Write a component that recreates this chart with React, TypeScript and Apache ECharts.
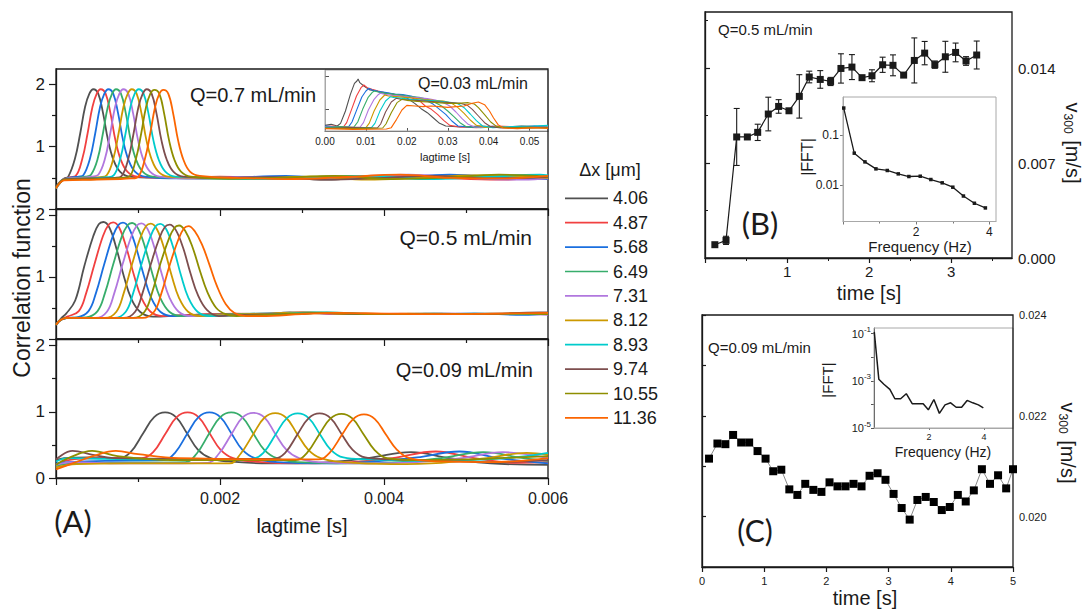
import React, { useEffect, useRef } from "react";
import * as echarts from "echarts";

const FONT = "'Liberation Sans', Arial, Helvetica, sans-serif";
const LETTER_FONT = "Lato, 'Open Sans', sans-serif";
const INK = "#1a1a1a";

// Probe spacings and the line colour used for each of them
const dxLabels = ["4.06", "4.87", "5.68", "6.49", "7.31", "8.12", "8.93", "9.74", "10.55", "11.36"];
const lineColors = ["#515151", "#F14040", "#1A6FDF", "#37AD6B", "#B177DE", "#CC9900", "#00CBCC", "#7D4E4E", "#8E8E00", "#FB6501"];

// Correlation functions, Q = 0.7 mL/min: [lag (µs), g]
const corrQ07: number[][][] = [
  [[0,0.35],[50,0.44],[100,0.49],[150,0.52],[230,0.8],[295,1.21],[355,1.64],[407,1.85],[455,1.92],[515,1.85],[575,1.53],[635,1.1],[700,0.79],[780,0.6],[900,0.52],[1300,0.5],[1900,0.49],[2600,0.51],[3300,0.47],[3900,0.52],[4600,0.49],[5300,0.53],[6000,0.5]],
  [[0,0.34],[50,0.43],[100,0.48],[170,0.51],[240,0.53],[320,0.8],[385,1.21],[445,1.64],[497,1.85],[545,1.92],[605,1.85],[665,1.53],[725,1.1],[790,0.79],[870,0.6],[990,0.52],[1400,0.5],[2000,0.52],[2700,0.48],[3400,0.5],[4000,0.54],[4700,0.5],[5400,0.47],[6000,0.51]],
  [[0,0.33],[50,0.42],[100,0.48],[200,0.51],[280,0.52],[333,0.54],[413,0.8],[478,1.21],[538,1.64],[590,1.85],[638,1.92],[698,1.85],[758,1.53],[818,1.1],[883,0.79],[963,0.6],[1083,0.52],[1500,0.49],[2100,0.5],[2800,0.53],[3500,0.48],[4100,0.5],[4800,0.55],[5500,0.5],[6000,0.48]],
  [[0,0.34],[50,0.43],[100,0.48],[250,0.5],[360,0.52],[427,0.55],[507,0.8],[572,1.21],[632,1.64],[684,1.85],[732,1.92],[792,1.85],[852,1.53],[912,1.1],[977,0.79],[1057,0.6],[1177,0.52],[1600,0.5],[2200,0.48],[2900,0.5],[3600,0.53],[4200,0.49],[4900,0.5],[5600,0.54],[6000,0.5]],
  [[0,0.35],[50,0.43],[100,0.48],[300,0.5],[440,0.52],[516,0.55],[596,0.8],[661,1.21],[721,1.64],[773,1.85],[821,1.92],[881,1.85],[941,1.53],[1001,1.1],[1066,0.79],[1146,0.6],[1266,0.52],[1700,0.49],[2300,0.51],[3000,0.48],[3700,0.51],[4300,0.55],[5000,0.5],[5700,0.47],[6000,0.49]],
  [[0,0.34],[50,0.42],[100,0.47],[350,0.49],[540,0.51],[618,0.54],[698,0.8],[763,1.21],[823,1.64],[875,1.85],[923,1.92],[983,1.85],[1043,1.53],[1103,1.1],[1168,0.79],[1248,0.6],[1368,0.52],[1800,0.5],[2400,0.49],[3100,0.52],[3800,0.47],[4400,0.5],[5100,0.54],[5800,0.51],[6000,0.5]],
  [[0,0.33],[50,0.42],[100,0.47],[400,0.49],[620,0.51],[703,0.54],[783,0.8],[848,1.21],[908,1.64],[960,1.85],[1008,1.92],[1068,1.85],[1128,1.53],[1188,1.1],[1253,0.79],[1333,0.6],[1453,0.52],[1900,0.51],[2500,0.48],[3200,0.5],[3900,0.53],[4500,0.48],[5200,0.51],[5900,0.55],[6000,0.54]],
  [[0,0.35],[50,0.43],[100,0.48],[450,0.49],[720,0.5],[801,0.53],[881,0.8],[946,1.21],[1006,1.64],[1058,1.85],[1106,1.92],[1166,1.85],[1226,1.53],[1286,1.1],[1351,0.79],[1431,0.6],[1551,0.52],[2000,0.5],[2600,0.51],[3300,0.47],[4000,0.5],[4600,0.53],[5300,0.49],[6000,0.51]],
  [[0,0.34],[50,0.43],[100,0.47],[500,0.48],[810,0.5],[894,0.52],[974,0.8],[1039,1.21],[1099,1.64],[1151,1.85],[1199,1.91],[1259,1.85],[1319,1.53],[1379,1.1],[1444,0.79],[1524,0.6],[1644,0.52],[2100,0.49],[2700,0.5],[3400,0.53],[4100,0.48],[4700,0.5],[5400,0.55],[6000,0.52]],
  [[0,0.33],[50,0.42],[100,0.46],[500,0.47],[920,0.49],[1004,0.52],[1084,0.8],[1149,1.21],[1209,1.64],[1261,1.85],[1309,1.91],[1369,1.85],[1429,1.53],[1489,1.1],[1554,0.79],[1634,0.6],[1754,0.53],[2200,0.5],[2800,0.48],[3500,0.51],[4200,0.55],[4800,0.5],[5500,0.49],[6000,0.53]],
];

// Correlation functions, Q = 0.5 mL/min: [lag (µs), g]
const corrQ05: number[][][] = [
  [[0,0.23],[60,0.33],[124,0.41],[234,0.62],[344,1.17],[455,1.66],[521,1.85],[578,1.886],[653,1.79],[741,1.44],[830,1.0],[918,0.65],[1028,0.435],[1183,0.36],[1500,0.38],[2000,0.4],[2500,0.39],[2850,0.43],[3300,0.41],[4000,0.4],[4700,0.41],[5400,0.4],[6000,0.42]],
  [[0,0.23],[60,0.31],[138,0.36],[278,0.45],[368,0.74],[468,1.2],[573,1.66],[643,1.845],[698,1.88],[773,1.79],[863,1.45],[953,1.02],[1043,0.66],[1153,0.44],[1298,0.37],[1700,0.39],[2200,0.41],[2700,0.4],[3000,0.43],[3500,0.4],[4200,0.41],[4900,0.4],[5600,0.41],[6000,0.4]],
  [[0,0.23],[60,0.31],[140,0.34],[257,0.35],[397,0.45],[487,0.74],[587,1.2],[692,1.655],[762,1.84],[817,1.875],[892,1.785],[982,1.45],[1072,1.02],[1162,0.66],[1272,0.44],[1417,0.37],[1800,0.38],[2300,0.4],[2800,0.42],[3200,0.42],[3700,0.4],[4400,0.4],[5100,0.41],[5700,0.39],[6000,0.41]],
  [[0,0.23],[60,0.31],[140,0.34],[367,0.35],[507,0.45],[597,0.74],[697,1.2],[802,1.65],[872,1.835],[927,1.87],[1002,1.78],[1092,1.45],[1182,1.02],[1272,0.66],[1382,0.44],[1527,0.37],[1900,0.39],[2400,0.41],[2900,0.4],[3300,0.43],[3900,0.4],[4600,0.41],[5300,0.4],[6000,0.42]],
  [[0,0.23],[60,0.31],[140,0.34],[481,0.34],[621,0.44],[711,0.74],[811,1.2],[916,1.645],[986,1.83],[1041,1.865],[1116,1.775],[1206,1.45],[1296,1.02],[1386,0.66],[1496,0.44],[1641,0.37],[2000,0.38],[2500,0.4],[3000,0.42],[3500,0.41],[4100,0.4],[4800,0.41],[5500,0.41],[6000,0.39]],
  [[0,0.23],[60,0.31],[140,0.34],[596,0.34],[736,0.44],[826,0.74],[926,1.2],[1031,1.64],[1101,1.825],[1156,1.86],[1231,1.77],[1321,1.45],[1411,1.02],[1501,0.66],[1611,0.44],[1756,0.37],[2100,0.39],[2600,0.41],[3100,0.43],[3600,0.4],[4300,0.41],[5000,0.4],[5700,0.41],[6000,0.42]],
  [[0,0.23],[60,0.31],[140,0.34],[711,0.34],[851,0.44],[941,0.74],[1041,1.2],[1146,1.635],[1216,1.82],[1271,1.855],[1346,1.765],[1436,1.45],[1526,1.02],[1616,0.66],[1726,0.44],[1871,0.37],[2200,0.38],[2700,0.4],[3150,0.43],[3700,0.41],[4400,0.4],[5100,0.41],[5800,0.4],[6000,0.41]],
  [[0,0.23],[60,0.31],[140,0.34],[825,0.34],[965,0.44],[1055,0.74],[1155,1.2],[1260,1.625],[1330,1.81],[1385,1.845],[1460,1.76],[1550,1.47],[1640,1.06],[1730,0.71],[1840,0.47],[1985,0.37],[2300,0.39],[2800,0.4],[3250,0.42],[3800,0.4],[4500,0.41],[5200,0.4],[5900,0.43],[6000,0.43]],
  [[0,0.23],[60,0.31],[140,0.34],[940,0.34],[1080,0.44],[1170,0.74],[1270,1.2],[1375,1.61],[1445,1.795],[1500,1.83],[1575,1.745],[1665,1.48],[1755,1.1],[1845,0.76],[1955,0.5],[2070,0.4],[2200,0.37],[2400,0.38],[2900,0.41],[3350,0.42],[3900,0.4],[4600,0.4],[5300,0.41],[6000,0.4]],
  [[0,0.23],[60,0.31],[140,0.34],[1056,0.34],[1196,0.44],[1286,0.74],[1386,1.19],[1491,1.6],[1561,1.785],[1616,1.82],[1691,1.74],[1781,1.52],[1871,1.2],[1961,0.86],[2071,0.56],[2176,0.42],[2316,0.37],[2500,0.37],[3000,0.4],[3400,0.42],[4000,0.41],[4700,0.4],[5400,0.41],[6000,0.42]],
];

// Correlation functions, Q = 0.09 mL/min: [lag (µs), g]
const corrQ009: number[][][] = [
  [[0,0.27],[100,0.3],[400,0.31],[770,0.3],[910,0.39],[1065,0.68],[1197,0.92],[1330,0.99],[1463,0.92],[1595,0.68],[1730,0.43],[1885,0.3],[2100,0.25],[2600,0.22],[3200,0.23],[3800,0.3],[4330,0.39],[4800,0.3],[5300,0.22],[6000,0.2]],
  [[0,0.2],[150,0.27],[500,0.3],[1045,0.3],[1185,0.39],[1340,0.68],[1472,0.92],[1605,0.99],[1738,0.92],[1870,0.68],[2005,0.43],[2160,0.3],[2400,0.25],[3000,0.22],[3600,0.24],[4100,0.3],[4630,0.4],[5100,0.3],[5600,0.23],[6000,0.24]],
  [[0,0.22],[150,0.24],[600,0.26],[1311,0.27],[1451,0.38],[1606,0.68],[1738,0.92],[1871,0.99],[2004,0.92],[2136,0.68],[2271,0.43],[2426,0.3],[2700,0.24],[3300,0.22],[3900,0.25],[4400,0.31],[4920,0.4],[5400,0.3],[6000,0.22]],
  [[0,0.18],[200,0.22],[700,0.23],[1577,0.24],[1717,0.37],[1872,0.68],[2004,0.92],[2137,0.99],[2270,0.92],[2402,0.68],[2537,0.43],[2692,0.3],[2950,0.24],[3600,0.22],[4200,0.24],[4700,0.3],[5210,0.39],[5700,0.3],[6000,0.26]],
  [[0,0.2],[200,0.24],[800,0.22],[1848,0.23],[1988,0.37],[2143,0.67],[2275,0.915],[2408,0.985],[2541,0.915],[2673,0.67],[2808,0.43],[2963,0.3],[3200,0.24],[3800,0.22],[4400,0.24],[4950,0.3],[5450,0.39],[6000,0.3]],
  [[0,0.16],[250,0.21],[900,0.22],[2114,0.22],[2254,0.37],[2409,0.67],[2541,0.91],[2674,0.98],[2807,0.91],[2939,0.67],[3074,0.43],[3229,0.3],[3500,0.24],[4100,0.21],[4700,0.23],[5250,0.3],[5740,0.38],[6000,0.35]],
  [[0,0.25],[150,0.3],[600,0.29],[1200,0.28],[2389,0.29],[2529,0.38],[2684,0.67],[2816,0.905],[2949,0.975],[3082,0.905],[3214,0.67],[3349,0.43],[3504,0.31],[3800,0.28],[4400,0.26],[5000,0.27],[5500,0.3],[6000,0.38]],
  [[0,0.28],[200,0.41],[450,0.35],[700,0.3],[1500,0.29],[2655,0.29],[2795,0.38],[2950,0.67],[3082,0.905],[3215,0.975],[3348,0.905],[3480,0.67],[3615,0.43],[3770,0.31],[4100,0.28],[4700,0.26],[5300,0.24],[6000,0.27]],
  [[0,0.2],[150,0.3],[440,0.41],[750,0.33],[1400,0.27],[2921,0.27],[3061,0.38],[3216,0.67],[3348,0.9],[3481,0.97],[3614,0.9],[3746,0.67],[3881,0.43],[4036,0.3],[4400,0.27],[5000,0.28],[5600,0.31],[6000,0.33]],
  [[0,0.13],[200,0.22],[450,0.33],[730,0.41],[1000,0.36],[1500,0.3],[3196,0.28],[3336,0.38],[3491,0.66],[3623,0.89],[3756,0.96],[3889,0.89],[4021,0.66],[4156,0.43],[4311,0.3],[4700,0.25],[5300,0.24],[6000,0.3]],
];

// Correlation functions, Q = 0.03 mL/min (inset): [lag (ms), g]
const corrQ003: number[][][] = [
  [[0,0.52],[1.5,0.55],[3,0.5],[3.8,0.58],[5,0.95],[6.2,1.45],[7.2,1.78],[7.8,1.85],[8.1,1.91],[8.5,1.8],[9.5,1.7],[11,1.58],[12.5,1.55],[14,1.49],[16,1.47],[17.5,1.43],[19,1.4],[20.5,1.3],[22,1.17],[23.5,1.02],[25,0.9],[26.5,0.74],[28,0.58],[29.5,0.5],[33,0.47],[38,0.5],[43,0.46],[48,0.5],[52,0.48],[54.5,0.5]],
  [[0,0.48],[2,0.5],[4.5,0.47],[5.3,0.6],[6.5,1.0],[7.7,1.4],[8.8,1.65],[9.5,1.73],[10.3,1.65],[11.5,1.6],[13,1.55],[15,1.49],[17,1.45],[19,1.4],[21,1.35],[23,1.27],[24.5,1.1],[26,1.0],[27.5,0.85],[29,0.67],[30.5,0.52],[33,0.47],[37,0.45],[42,0.5],[47,0.47],[54.5,0.49]],
  [[0,0.5],[3,0.47],[5.8,0.48],[6.6,0.62],[7.8,1.0],[9,1.37],[10,1.55],[10.7,1.63],[11.5,1.58],[13,1.54],[15,1.5],[17,1.46],[19,1.44],[21,1.4],[23,1.33],[25,1.25],[26.5,1.15],[28,1.0],[29.5,0.85],[31,0.65],[32.5,0.5],[36,0.46],[41,0.49],[46,0.45],[51,0.5],[54.5,0.48]],
  [[0,0.45],[3,0.48],[7,0.46],[8,0.62],[9.2,1.0],[10.5,1.35],[11.5,1.5],[12,1.55],[13,1.52],[15,1.48],[17,1.45],[19,1.42],[21,1.38],[23,1.36],[25,1.3],[27,1.2],[28.5,1.1],[30,0.95],[31.5,0.78],[33,0.6],[34.5,0.48],[38,0.45],[43,0.48],[48,0.46],[54.5,0.47]],
  [[0,0.47],[4,0.45],[8.6,0.47],[9.4,0.6],[10.6,0.98],[12,1.3],[13,1.44],[13.5,1.48],[14.5,1.45],[16.5,1.42],[18.5,1.4],[20.5,1.37],[22.5,1.35],[25,1.32],[27,1.28],[29,1.2],[30.5,1.1],[32,0.92],[33.5,0.72],[35,0.55],[36.5,0.47],[40,0.46],[45,0.48],[50,0.45],[54.5,0.47]],
  [[0,0.44],[5,0.46],[10,0.45],[10.8,0.58],[12,0.95],[13.4,1.28],[14.6,1.43],[15.5,1.4],[17.5,1.38],[19.5,1.36],[21.5,1.34],[24,1.3],[26.5,1.27],[29,1.25],[31,1.18],[32.5,1.05],[34,0.88],[35.5,0.68],[37,0.52],[39,0.46],[44,0.47],[49,0.44],[54.5,0.46]],
  [[0,0.46],[6,0.44],[11.4,0.46],[12.2,0.58],[13.4,0.94],[14.8,1.25],[16,1.38],[17,1.35],[19,1.33],[21,1.3],[23.5,1.28],[26,1.26],[28.5,1.24],[31,1.2],[32.5,1.17],[34,1.05],[35.5,0.86],[37,0.66],[38.5,0.5],[41,0.45],[46,0.48],[51,0.5],[54.5,0.52]],
  [[0,0.43],[6,0.45],[12.8,0.44],[13.6,0.56],[14.8,0.92],[16.2,1.22],[17.4,1.33],[18.5,1.3],[20.5,1.28],[23,1.26],[25.5,1.24],[28,1.22],[30.5,1.2],[33,1.18],[34.8,1.12],[36,1.0],[37.5,0.8],[39,0.6],[40.5,0.48],[43,0.44],[48,0.46],[54.5,0.45]],
  [[0,0.44],[7,0.42],[14.1,0.44],[14.9,0.56],[16.2,0.9],[17.6,1.2],[18.8,1.3],[20,1.27],[22.5,1.24],[25,1.22],[27.5,1.2],[30,1.18],[32.5,1.18],[35,1.2],[36.5,1.16],[37.5,1.05],[39,0.84],[40.5,0.62],[42,0.48],[45,0.44],[50,0.46],[54.5,0.44]],
  [[0,0.42],[7,0.4],[15,0.41],[16.2,0.45],[17.5,0.7],[18.8,0.98],[20,1.12],[22,1.1],[24,1.08],[26,1.1],[28,1.08],[30,1.06],[32,1.08],[34,1.1],[36,1.18],[37.5,1.22],[39,1.14],[40.2,0.95],[41.2,0.74],[42.3,0.54],[43.5,0.44],[47,0.42],[51,0.45],[54.5,0.43]],
];

// Velocity v300 at Q = 0.5 mL/min with error bars
const timeB = [0.12,0.256,0.386,0.516,0.642,0.771,0.897,1.023,1.149,1.27,1.404,1.53,1.656,1.79,1.913,2.034,2.164,2.29,2.42,2.55,2.676,2.8,2.928,3.053,3.18,3.31];
const velB = [0.00098,0.0013,0.00892,0.00892,0.00926,0.01061,0.01117,0.01085,0.01191,0.01334,0.01316,0.01301,0.01397,0.01407,0.01329,0.01343,0.01424,0.0142,0.01348,0.01456,0.0151,0.01425,0.01483,0.01515,0.01452,0.01496];
const errB = [0,0.0003,0.0021,0,0.0006,0.00124,0.0005,0,0.0016,0.00043,0.00065,0.0003,0.00108,0.00092,0.0001,0.00044,0.00056,0.00077,0,0.00166,0.00086,0.00027,0.00114,0.00069,0.00032,0.00103];

// Spectrum of the Q = 0.5 mL/min velocity trace
const freqB = [0.02,0.308,0.6,0.9,1.21,1.51,1.8,2.11,2.4,2.71,3.0,3.29,3.59,3.89];
const fftB = [0.342,0.043,0.0288,0.0209,0.0194,0.0166,0.0147,0.0149,0.0128,0.011,0.009,0.006,0.0043,0.00347];

// Velocity v300 at Q = 0.09 mL/min
const timeC = [0.113,0.248,0.376,0.5,0.63,0.758,0.893,1.022,1.145,1.275,1.404,1.533,1.66,1.79,1.92,2.05,2.178,2.307,2.436,2.565,2.694,2.823,2.95,3.08,3.21,3.339,3.463,3.597,3.726,3.855,3.984,4.113,4.24,4.37,4.5,4.63,4.76,4.89,5.0];
const velC = [0.02115,0.02145,0.021437,0.02162,0.02147,0.02147,0.0213,0.02115,0.0209,0.02093,0.02054,0.02043,0.02065,0.02053,0.02049,0.02068,0.0206,0.0206,0.02065,0.0206,0.02081,0.02086,0.02073,0.02045,0.02017,0.01994,0.02033,0.02039,0.02029,0.02013,0.02019,0.02043,0.0203,0.02052,0.02094,0.02065,0.02082,0.02056,0.02094];

// Spectrum of the Q = 0.09 mL/min velocity trace
const freqC = [0.01,0.175,0.36,0.577,0.76,0.97,1.175,1.39,1.577,1.79,1.978,2.18,2.38,2.586,2.79,2.99,3.19,3.39,3.595,3.8,3.98];
const fftC = [0.12,0.00118,0.000714,0.000436,0.000174,0.000174,0.000285,0.000107,0.000107,0.000107,0.0000589,0.000162,0.0000417,0.0000955,0.000117,0.0000759,0.0000759,0.000148,0.000117,0.0000955,0.0000708];

function tickStyle(color = INK, length = 7) {
  return { show: true, length, lineStyle: { color, width: 1.2 } };
}

function mainX(gridIndex: number, showLabels: boolean) {
  return {
    type: "value", gridIndex, min: 0, max: 0.006, interval: 0.002,
    axisLine: { show: true, onZero: false, lineStyle: { color: INK, width: 1.3 } },
    axisTick: tickStyle(),
    minorTick: { show: true, splitNumber: 2, length: 4, lineStyle: { color: INK, width: 1.2 } },
    splitLine: { show: false },
    axisLabel: {
      show: showLabels, showMinLabel: false, margin: 12,
      fontFamily: FONT, fontSize: 16, color: INK,
      formatter: (v: number) => v.toFixed(3),
    },
  };
}

function mainY(gridIndex: number, max: number, showZero: boolean) {
  return {
    type: "value", gridIndex, min: 0, max, interval: 1,
    axisLine: { show: true, onZero: false, lineStyle: { color: INK, width: 1.3 } },
    axisTick: { ...tickStyle(), customValues: [0, 1, 2] },
    minorTick: { show: true, splitNumber: 2, length: 4, lineStyle: { color: INK, width: 1.2 } },
    splitLine: { show: false },
    axisLabel: {
      showMinLabel: showZero, showMaxLabel: false, margin: 11,
      fontFamily: FONT, fontSize: 17, color: INK,
    },
  };
}

function corrSeries(curves: number[][][], scale: number, axis: number, width: number, smooth: number | boolean) {
  return curves.map((c, i) => ({
    type: "line", name: dxLabels[i], xAxisIndex: axis, yAxisIndex: axis,
    data: c.map((p) => [p[0] * scale, p[1]]),
    symbol: "none", smooth, silent: true,
    lineStyle: { color: lineColors[i], width },
    itemStyle: { color: lineColors[i] },
  }));
}

function label(text: string, x: number, y: number, fontSize: number, opts: any = {}) {
  return {
    type: "text", x, y, rotation: opts.rotation || 0, silent: true,
    style: {
      text, fill: opts.color || INK,
      fontFamily: opts.fontFamily || FONT, fontSize,
      textAlign: opts.align || "center", textVerticalAlign: "middle",
      rich: opts.rich,
    },
  };
}

function velocityTitle(x: number, y: number) {
  return label("{n|v}{s|300}{n| [m/s]}", x, y, 20, {
    rotation: -Math.PI / 2,
    rich: {
      n: { fontFamily: FONT, fontSize: 20, fill: INK, color: INK },
      s: { fontFamily: FONT, fontSize: 12, fill: INK, color: INK, padding: [11, 1, 0, 1] },
    },
  });
}

export default function App() {
  const ref = useRef<HTMLDivElement>(null);

  useEffect(() => {
    document.body.style.margin = "0";
    if (!ref.current) return;
    const chart = echarts.init(ref.current, undefined, { renderer: "svg" });

    const legendItems: any[] = [];
    dxLabels.forEach((lab, i) => {
      const y = 198.3 + i * 24.4;
      legendItems.push({
        type: "line", silent: true,
        shape: { x1: 565, y1: y, x2: 608, y2: y },
        style: { stroke: lineColors[i], lineWidth: 1.7 },
      });
      legendItems.push(label(lab, 613, y, 18, { align: "left" }));
    });

    const grids = [
      { left: 56, top: 69, width: 492, height: 140 },
      { left: 56, top: 209, width: 492, height: 130 },
      { left: 56, top: 339, width: 492, height: 139 },
      { left: 325, top: 70, width: 223, height: 61 },
      { left: 705, top: 12, width: 307, height: 246 },
      { left: 843, top: 97, width: 153, height: 124.5 },
      { left: 702, top: 315, width: 311, height: 252 },
      { left: 874, top: 328, width: 139, height: 100 },
    ];
    const insetGrid = [3, 5, 7];

    const option: any = {
      animation: false,
      backgroundColor: "#ffffff",
      grid: grids.map((g, i) => ({
        ...g, containLabel: false, show: true,
        borderColor: insetGrid.includes(i) ? "#a8a8a8" : INK,
        borderWidth: insetGrid.includes(i) ? 1 : 1.3,
        z: insetGrid.includes(i) ? 1 : 3,
      })),
      xAxis: [
        mainX(0, false),
        mainX(1, false),
        mainX(2, true),
        {
          type: "value", gridIndex: 3, min: 0, max: 0.0545, interval: 0.01,
          axisLine: { show: true, onZero: false, lineStyle: { color: "#555", width: 1 } },
          axisTick: { show: true, inside: true, length: 3, lineStyle: { color: "#555" } },
          splitLine: { show: false },
          axisLabel: { showMaxLabel: false, margin: 5, fontFamily: FONT, fontSize: 10, color: INK, formatter: (v: number) => v.toFixed(2) },
        },
        {
          type: "value", gridIndex: 4, min: 0, max: 3.74, interval: 1,
          axisLine: { show: true, onZero: false, lineStyle: { color: INK, width: 1.3 } },
          axisTick: { ...tickStyle(INK, 5), customValues: [0, 1, 2, 3] },
          minorTick: { show: true, splitNumber: 2, length: 3, lineStyle: { color: INK } },
          splitLine: { show: false },
          axisLabel: { showMinLabel: false, showMaxLabel: false, margin: 6, fontFamily: FONT, fontSize: 15, color: INK },
        },
        {
          type: "value", gridIndex: 5, min: 0, max: 4.18, interval: 2,
          axisLine: { show: true, onZero: false, lineStyle: { color: "#a8a8a8", width: 1 } },
          axisTick: { show: true, length: 3, lineStyle: { color: "#777" }, customValues: [0, 2, 4] },
          minorTick: { show: true, splitNumber: 2, length: 2, lineStyle: { color: "#777" } },
          splitLine: { show: false },
          axisLabel: { showMinLabel: false, showMaxLabel: false, margin: 4, fontFamily: FONT, fontSize: 12, color: INK },
        },
        {
          type: "value", gridIndex: 6, min: 0, max: 5, interval: 1,
          axisLine: { show: true, onZero: false, lineStyle: { color: INK, width: 1.3 } },
          axisTick: tickStyle(INK, 5),
          splitLine: { show: false },
          axisLabel: { margin: 8, fontFamily: FONT, fontSize: 11, color: INK },
        },
        {
          type: "value", gridIndex: 7, min: 0, max: 5.06, interval: 2,
          axisLine: { show: true, onZero: false, lineStyle: { color: "#a8a8a8", width: 1 } },
          axisTick: { show: true, length: 2, lineStyle: { color: "#777" }, customValues: [0, 2, 4] },
          splitLine: { show: false },
          axisLabel: { showMinLabel: false, showMaxLabel: false, margin: 4, fontFamily: FONT, fontSize: 9, color: INK },
        },
      ],
      yAxis: [
        mainY(0, 2.245, false),
        mainY(1, 2.096, false),
        mainY(2, 2.1, true),
        {
          type: "value", gridIndex: 3, min: 0.35, max: 2.18,
          axisLine: { show: true, lineStyle: { color: "#a8a8a8", width: 1 } },
          axisTick: { show: true, inside: true, length: 4, lineStyle: { color: "#555" }, customValues: [1, 2] },
          splitLine: { show: false },
          axisLabel: { show: false },
        },
        {
          type: "value", gridIndex: 4, position: "right", min: 0, max: 0.01813, interval: 0.007,
          axisLine: { show: true, lineStyle: { color: INK, width: 1.3 } },
          axisTick: { ...tickStyle(INK, 5), customValues: [0, 0.007, 0.014] },
          minorTick: { show: true, splitNumber: 2, length: 3, lineStyle: { color: INK } },
          splitLine: { show: false },
          axisLabel: { showMaxLabel: false, margin: 6, fontFamily: FONT, fontSize: 15, color: INK, formatter: (v: number) => v.toFixed(3) },
        },
        {
          type: "log", gridIndex: 5, min: 0.00186, max: 0.568, logBase: 10,
          axisLine: { show: true, lineStyle: { color: "#a8a8a8", width: 1 } },
          axisTick: { show: true, length: 3, lineStyle: { color: "#777" } },
          splitLine: { show: false },
          axisLabel: {
            showMinLabel: false, showMaxLabel: false, margin: 4, fontFamily: FONT, fontSize: 12, color: INK,
            formatter: (v: number) => {
              const e = Math.round(Math.log10(v));
              if (Math.abs(Math.log10(v) - e) > 0.01) return "";
              return e === -1 ? "0.1" : e === -2 ? "0.01" : "";
            },
          },
        },
        {
          type: "value", gridIndex: 6, position: "right", min: 0.019, max: 0.024, interval: 0.001,
          axisLine: { show: true, lineStyle: { color: INK, width: 1.3 } },
          axisTick: tickStyle(INK, 4),
          splitLine: { show: false },
          axisLabel: {
            margin: 6, fontFamily: FONT, fontSize: 11, color: INK,
            formatter: (v: number) => (Math.round(v * 1000) % 2 === 0 ? v.toFixed(3) : ""),
          },
        },
        {
          type: "log", gridIndex: 7, min: 0.00001, max: 0.1746, logBase: 10,
          axisLine: { show: true, lineStyle: { color: "#333", width: 1 } },
          axisTick: { show: true, length: 3, lineStyle: { color: "#555" } },
          splitLine: { show: false },
          axisLabel: {
            showMaxLabel: false, margin: 3, color: INK,
            formatter: (v: number) => {
              const e = Math.round(Math.log10(v));
              if (Math.abs(e) % 2 !== 1) return "";
              return "{b|10}{e|" + e + "}";
            },
            rich: {
              b: { fontFamily: FONT, fontSize: 11, color: INK },
              e: { fontFamily: FONT, fontSize: 8, color: INK, padding: [0, 0, 8, 0] },
            },
          },
        },
      ],
      series: [
        ...corrSeries(corrQ07, 1e-6, 0, 1.8, 0.4),
        ...corrSeries(corrQ05, 1e-6, 1, 1.8, 0.4),
        ...corrSeries(corrQ009, 1e-6, 2, 1.8, 0.4),
        ...corrSeries(corrQ003, 1e-3, 3, 1.1, false),
        {
          type: "custom", xAxisIndex: 4, yAxisIndex: 4, silent: true,
          data: timeB.map((t, i) => [t, velB[i], errB[i]]),
          encode: { x: 0, y: 1 },
          renderItem: (params: any, api: any) => {
            const x = api.value(0), y = api.value(1), e = api.value(2);
            if (!e) return { type: "group", children: [] };
            const top = api.coord([x, y + e]);
            const bot = api.coord([x, y - e]);
            const style = { stroke: INK, lineWidth: 1.1 };
            return {
              type: "group",
              children: [
                { type: "line", shape: { x1: top[0], y1: top[1], x2: bot[0], y2: bot[1] }, style },
                { type: "line", shape: { x1: top[0] - 3, y1: top[1], x2: top[0] + 3, y2: top[1] }, style },
                { type: "line", shape: { x1: bot[0] - 3, y1: bot[1], x2: bot[0] + 3, y2: bot[1] }, style },
              ],
            };
          },
        },
        {
          type: "line", xAxisIndex: 4, yAxisIndex: 4, silent: true,
          data: timeB.map((t, i) => [t, velB[i]]),
          symbol: "rect", symbolSize: 7, showAllSymbol: true,
          lineStyle: { color: INK, width: 1.2 }, itemStyle: { color: INK },
        },
        {
          type: "line", xAxisIndex: 5, yAxisIndex: 5, silent: true,
          data: freqB.map((f, i) => [f, fftB[i]]),
          symbol: "rect", symbolSize: 3.5, showAllSymbol: true,
          lineStyle: { color: INK, width: 1.3 }, itemStyle: { color: INK },
        },
        {
          type: "line", xAxisIndex: 6, yAxisIndex: 6, silent: true,
          data: timeC.map((t, i) => [t, velC[i]]),
          symbol: "rect", symbolSize: 8, showAllSymbol: true,
          lineStyle: { color: "#8a8a8a", width: 1 }, itemStyle: { color: "#000" },
        },
        {
          type: "line", xAxisIndex: 7, yAxisIndex: 7, silent: true,
          data: freqC.map((f, i) => [f, fftC[i]]),
          symbol: "none",
          lineStyle: { color: INK, width: 1.5 },
        },
      ],
      graphic: [
        label("Q=0.7 mL/min", 190, 95, 20, { align: "left" }),
        label("Q=0.5 mL/min", 532, 237, 21, { align: "right" }),
        label("Q=0.09 mL/min", 533, 370, 20, { align: "right" }),
        label("Q=0.03 mL/min", 418, 83, 16, { align: "left" }),
        label("lagtime [s]", 445, 157, 11),
        label("Correlation function", 22, 278, 23, { rotation: Math.PI / 2 }),
        label("lagtime [s]", 302, 526, 20),
        label("(A)", 73, 521, 31, { fontFamily: LETTER_FONT }),
        label("\u0394x [\u03BCm]", 610, 170, 18),
        ...legendItems,
        label("Q=0.5 mL/min", 718, 29, 15, { align: "left" }),
        label("(B)", 760, 223, 31, { fontFamily: LETTER_FONT }),
        label("time [s]", 869, 293, 20),
        velocityTitle(1073, 143),
        label("|FFT|", 807, 157, 16, { rotation: Math.PI / 2 }),
        label("Frequency (Hz)", 920, 246, 15),
        label("Q=0.09 mL/min", 708, 347, 15, { align: "left" }),
        label("(C)", 755, 530, 30, { fontFamily: LETTER_FONT }),
        label("time [s]", 865, 598, 20),
        velocityTitle(1068, 443),
        label("|FFT|", 827, 380, 15, { rotation: Math.PI / 2 }),
        label("Frequency (Hz)", 943, 452, 14),
      ],
    };

    chart.setOption(option);
    return () => chart.dispose();
  }, []);

  return <div ref={ref} style={{ width: 1086, height: 611 }} />;
}
